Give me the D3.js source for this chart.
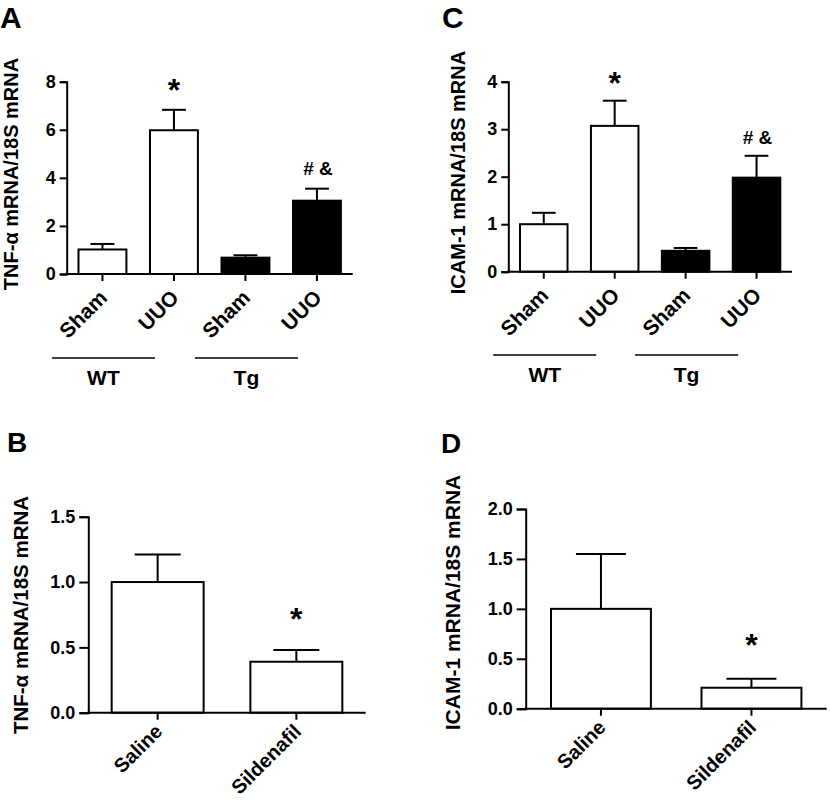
<!DOCTYPE html>
<html>
<head>
<meta charset="utf-8">
<script src="https://cdn.jsdelivr.net/npm/d3@7"></script>
<style>
  html, body { margin: 0; padding: 0; background: #fff; }
  text { font-family: "Liberation Sans", Arial, Helvetica, sans-serif; font-weight: bold; fill: #000; }
</style>
</head>
<body>
<svg id="fig" width="830" height="800"></svg>
<script>
// ---------- data ----------
const groupCats = ["Sham", "UUO", "Sham", "UUO"];
const genotypes = ["WT", "WT", "Tg", "Tg"];
const groupFill = ["white", "white", "black", "black"];

const tnfMean = [1.02, 5.98, 0.68, 3.05];
const tnfSem  = [0.23, 0.85, 0.10, 0.50];

const icamMean = [1.00, 3.07, 0.44, 1.98];
const icamSem  = [0.24, 0.53, 0.06, 0.46];

const treatments = ["Saline", "Sildenafil"];
const tnfSildMean = [1.00, 0.39];
const tnfSildSem  = [0.21, 0.09];
const icamSildMean = [1.00, 0.21];
const icamSildSem  = [0.55, 0.09];

const ticksA = [0, 2, 4, 6, 8];
const ticksC = [0, 1, 2, 3, 4];
const ticksB = [0, 0.5, 1.0, 1.5];
const ticksD = [0, 0.5, 1.0, 1.5, 2.0];

// annotation marks: [category index, y value (data units), text]
const annotA = [[1, 7.95, "*"], [3, 4.42, "# &"]];
const annotC = [[1, 4.12, "*"], [3, 2.84, "# &"]];
const annotB = [[1, 0.77, "*"]];
const annotD = [[1, 0.71, "*"]];

const titleTNF = "TNF-\u03B1 mRNA/18S mRNA";
const titleICAM = "ICAM-1 mRNA/18S mRNA";

// ---------- drawing ----------
const svg = d3.select("#fig");

function drawPanel(cfg) {
  const g = svg.append("g");
  const x = d3.scaleBand()
    .domain(d3.range(cfg.cats.length))
    .range([cfg.left, cfg.right])
    .paddingInner(cfg.pad)
    .paddingOuter(cfg.pad / 2);
  const y = d3.scaleLinear().domain([0, d3.max(cfg.ticks)]).range([cfg.bottom, cfg.top]);
  const bw = x.bandwidth();

  // bars
  g.selectAll("rect.bar").data(cfg.mean).join("rect")
    .attr("x", (d, i) => x(i))
    .attr("y", d => y(d))
    .attr("width", bw)
    .attr("height", d => y(0) - y(d))
    .attr("fill", (d, i) => cfg.fills[i])
    .attr("stroke", "#000")
    .attr("stroke-width", 2);

  // error bars
  cfg.mean.forEach((m, i) => {
    const cx = x(i) + bw / 2;
    g.append("line").attr("x1", cx).attr("x2", cx)
      .attr("y1", y(m)).attr("y2", y(m + cfg.sem[i]))
      .attr("stroke", "#000").attr("stroke-width", 2);
    g.append("line").attr("x1", cx - bw / 4).attr("x2", cx + bw / 4)
      .attr("y1", y(m + cfg.sem[i])).attr("y2", y(m + cfg.sem[i]))
      .attr("stroke", "#000").attr("stroke-width", 2);
  });

  // y axis
  const yAxis = d3.axisLeft(y).tickValues(cfg.ticks).tickFormat(cfg.fmt)
    .tickSizeOuter(0).tickSize(cfg.tickLen).tickPadding(cfg.tickPad);
  const ya = g.append("g").attr("transform", `translate(${cfg.left},0)`).call(yAxis);
  ya.attr("font-size", null).attr("font-family", null);
  ya.select(".domain").attr("stroke", "#000").attr("stroke-width", 2);
  ya.selectAll(".tick line").attr("stroke", "#000").attr("stroke-width", 2);
  ya.selectAll(".tick text").attr("fill", "#000")
    .style("font-size", "18px").style("font-weight", "bold");

  // x axis
  const xAxis = d3.axisBottom(x).tickFormat("").tickSizeOuter(0).tickSize(7);
  const xa = g.append("g").attr("transform", `translate(0,${cfg.bottom})`).call(xAxis);
  xa.select(".domain").attr("stroke", "#000").attr("stroke-width", 2)
    .attr("d", `M${cfg.left - 1},0H${cfg.right}`);
  xa.selectAll(".tick line").attr("stroke", "#000").attr("stroke-width", 2);

  // rotated category labels
  cfg.cats.forEach((c, i) => {
    const cx = x(i) + bw / 2;
    g.append("text")
      .attr("transform", `translate(${cx + 6},${cfg.bottom + cfg.labelDy}) rotate(-45)`)
      .attr("text-anchor", "end")
      .style("font-size", cfg.labelSize + "px")
      .text(c);
  });

  // annotations
  cfg.annot.forEach(([i, v, t]) => {
    const cx = x(i) + bw / 2;
    const isStar = t === "*";
    const fs = isStar ? 32 : 19;
    g.append("text")
      .attr("x", cx + (isStar ? 0 : 1))
      .attr("y", y(v) + (isStar ? fs * 0.56 : fs * 0.36))
      .attr("text-anchor", "middle")
      .style("font-size", fs + "px")
      .text(t);
  });

  // group lines and labels
  if (cfg.groups) {
    const seen = [];
    cfg.groups.forEach((gname, i) => {
      if (seen.includes(gname)) return;
      seen.push(gname);
      const c = x(i) + bw / 2 + 1;
      g.append("line").attr("x1", c - 51.5).attr("x2", c + 51.5)
        .attr("y1", cfg.groupLineY).attr("y2", cfg.groupLineY)
        .attr("stroke", "#000").attr("stroke-width", 1.6);
      g.append("text").attr("x", c).attr("y", cfg.groupLineY + 27)
        .attr("text-anchor", "middle").style("font-size", "21px").text(gname);
    });
  }

  // y title
  g.append("text")
    .attr("transform", `translate(${cfg.titleX},${cfg.titleY}) rotate(-90)`)
    .attr("text-anchor", "middle")
    .style("font-size", cfg.titleSize + "px")
    .text(cfg.title);

  // panel letter
  g.append("text").attr("x", cfg.letterX).attr("y", cfg.letterY)
    .style("font-size", cfg.letterSize + "px").text(cfg.letter);
}

drawPanel({
  cats: groupCats, groups: genotypes, fills: groupFill, mean: tnfMean, sem: tnfSem,
  ticks: ticksA, fmt: d3.format("d"), annot: annotA,
  left: 66.7, right: 352.7, top: 81.7, bottom: 274, pad: 0.33,
  tickLen: 7, tickPad: 4, groupLineY: 358, labelDy: 25, labelSize: 21,
  title: titleTNF, titleX: 18, titleY: 174, titleSize: 20,
  letter: "A", letterX: 0, letterY: 27.5, letterSize: 30
});

drawPanel({
  cats: groupCats, groups: genotypes, fills: groupFill, mean: icamMean, sem: icamSem,
  ticks: ticksC, fmt: d3.format("d"), annot: annotC,
  left: 508.3, right: 792, top: 81.7, bottom: 271.7, pad: 0.33,
  tickLen: 7, tickPad: 4, groupLineY: 355, labelDy: 25, labelSize: 21,
  title: titleICAM, titleX: 465, titleY: 172.5, titleSize: 20,
  letter: "C", letterX: 442, letterY: 27.5, letterSize: 30
});

drawPanel({
  cats: treatments, fills: ["white", "white"], mean: tnfSildMean, sem: tnfSildSem,
  ticks: ticksB, fmt: d3.format(".1f"), annot: annotB,
  left: 88.3, right: 365.7, top: 516.7, bottom: 712.7, pad: 0.337,
  tickLen: 9, tickPad: 4, labelDy: 20, labelSize: 20,
  title: titleTNF, titleX: 28, titleY: 615, titleSize: 20.5,
  letter: "B", letterX: 7, letterY: 452, letterSize: 28
});

drawPanel({
  cats: treatments, fills: ["white", "white"], mean: icamSildMean, sem: icamSildSem,
  ticks: ticksD, fmt: d3.format(".1f"), annot: annotD,
  left: 525.7, right: 826.7, top: 509, bottom: 708.7, pad: 0.336,
  tickLen: 9, tickPad: 4, labelDy: 20, labelSize: 20,
  title: titleICAM, titleX: 460, titleY: 602.5, titleSize: 21,
  letter: "D", letterX: 441, letterY: 453, letterSize: 28
});
</script>
</body>
</html>
